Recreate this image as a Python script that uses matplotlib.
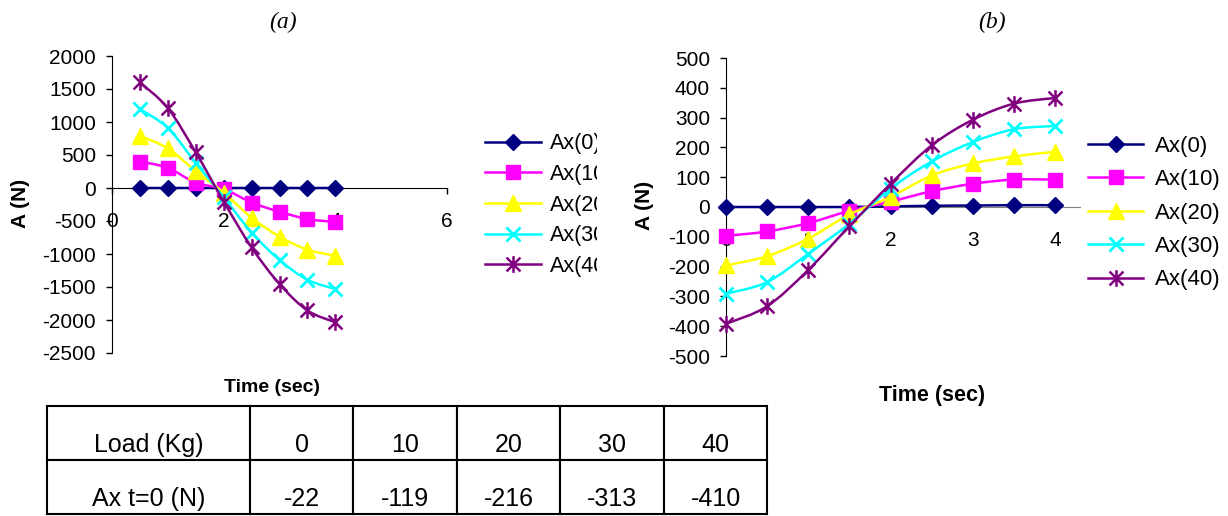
import numpy as np
import matplotlib
matplotlib.use('Agg')
import matplotlib.pyplot as plt
from matplotlib.path import Path
from matplotlib.patches import PathPatch
from matplotlib.lines import Line2D
from matplotlib.transforms import Bbox, TransformedBbox

plt.rcParams['font.family'] = ['Liberation Sans', 'DejaVu Sans']
plt.rcParams['axes.unicode_minus'] = False

# ---- data ----
labels = ['Ax(0)', 'Ax(10)', 'Ax(20)', 'Ax(30)', 'Ax(40)']

t_a = [0.5, 1.0, 1.5, 2.0, 2.5, 3.0, 3.5, 4.0]
a_ax0 = [0, 0, 0, 0, 0, 0, 0, 0]
a_ax10 = [400, 305, 80, -15, -220, -360, -470, -515]
a_ax20 = [790, 600, 255, -70, -450, -735, -935, -1025]
a_ax30 = [1195, 910, 380, -140, -675, -1090, -1390, -1530]
a_ax40 = [1600, 1210, 540, -205, -900, -1455, -1855, -2035]

t_b = [0.0, 0.5, 1.0, 1.5, 2.0, 2.5, 3.0, 3.5, 4.0]
b_ax0 = [0, 0, 0, 0, 2, 4, 5, 6, 6]
b_ax10 = [-97, -82, -54, -13, 18, 53, 78, 92, 92]
b_ax20 = [-196, -165, -106, -25, 34, 106, 146, 170, 185]
b_ax30 = [-291, -252, -157, -56, 62, 153, 218, 261, 272]
b_ax40 = [-392, -333, -211, -64, 78, 207, 293, 347, 366]

table_head = ['Load (Kg)', '0', '10', '20', '30', '40']
table_row = ['Ax t=0 (N)', '-22', '-119', '-216', '-313', '-410']

# ---- styles ----
colors = ['#000080', '#FF00FF', '#FFFF00', '#00FFFF', '#800080']
star = Path([(-1, -1), (1, 1), (-1, 1), (1, -1), (0, -1.2), (0, 1.2)],
            [Path.MOVETO, Path.LINETO, Path.MOVETO, Path.LINETO, Path.MOVETO, Path.LINETO])
mstyles = [
    dict(marker='D', ms=8, mfc=colors[0], mec=colors[0]),
    dict(marker='s', ms=10, mfc=colors[1], mec=colors[1]),
    dict(marker='^', ms=11, mfc=colors[2], mec=colors[2]),
    dict(marker='x', ms=10, mec=colors[3], mew=2),
    dict(marker=star, ms=12, mec=colors[4], mew=1.8, mfc='none'),
]
W, H = 1228, 516


def smooth_path(xs, ys):
    # Excel-like smoothed line: cubic bezier through every point
    pts = np.column_stack([xs, ys]).astype(float)
    n = len(pts)
    verts = [pts[0]]
    codes = [Path.MOVETO]
    for i in range(n - 1):
        p0 = pts[i - 1] if i > 0 else pts[i]
        p1, p2 = pts[i], pts[i + 1]
        p3 = pts[i + 2] if i + 2 < n else pts[i + 1]
        verts += [p1 + (p2 - p0) / 6, p2 - (p3 - p1) / 6, p2]
        codes += [Path.CURVE4] * 3
    return Path(verts, codes)


def fig_rect(x0, y0, x1, y1):
    return [x0 / W, 1 - y1 / H, (x1 - x0) / W, (y1 - y0) / H]


def draw_panel(ax, t, series):
    for i, ys in enumerate(series):
        ax.add_patch(PathPatch(smooth_path(t, ys), fill=False, ec=colors[i],
                               lw=1.8, zorder=3 + i, clip_on=False))
        ax.plot(t, ys, ls='none', zorder=3.5 + i, clip_on=False, **mstyles[i])
    for s in ('top', 'right'):
        ax.spines[s].set_visible(False)
    ax.spines['bottom'].set_position(('data', 0))
    ax.tick_params(axis='y', direction='out', length=4.5, width=1, pad=7, labelsize=15)
    ax.tick_params(axis='x', direction='out', length=4.5, width=1, pad=13, labelsize=15)


def handles():
    return [Line2D([], [], color=colors[i], lw=1.8, **mstyles[i]) for i in range(5)]


fig = plt.figure(figsize=(W / 100, H / 100), dpi=100)

# ---- panel (a) ----
ax1 = fig.add_axes(fig_rect(112, 56, 447, 353))
draw_panel(ax1, t_a, [a_ax0, a_ax10, a_ax20, a_ax30, a_ax40])
ax1.set_xlim(0, 6)
ax1.set_ylim(-2500, 2000)
ax1.set_xticks([0, 2, 4, 6])
ax1.set_yticks(np.arange(-2500, 2001, 500))
leg1 = ax1.legend(handles(), labels, loc='center left',
                  bbox_to_anchor=(485 / W, 1 - 205 / H), bbox_transform=fig.transFigure,
                  frameon=False, fontsize=15.5, handlelength=2.6, handletextpad=0.43,
                  labelspacing=0.45, borderpad=0, borderaxespad=0)
clip = TransformedBbox(Bbox.from_extents(0, 0, 597 / W, 1), fig.transFigure)
for txt in leg1.get_texts():
    txt.set_clip_box(clip)
    txt.set_clip_on(True)

fig.text(283 / W, 1 - 22 / H, '(a)', family='Liberation Serif', style='italic',
         fontsize=17, ha='center', va='center')
fig.text(20 / W, 1 - 203 / H, 'A (N)', rotation=90, fontsize=15, fontweight='bold',
         ha='center', va='center')
fig.text(272 / W, 1 - 388 / H, 'Time (sec)', fontsize=14, fontweight='bold',
         ha='center', va='center')

# ---- panel (b) ----
ax2 = fig.add_axes(fig_rect(726, 58, 1080, 356))
draw_panel(ax2, t_b, [b_ax0, b_ax10, b_ax20, b_ax30, b_ax40])
ax2.set_xlim(0, 4.3)
ax2.set_ylim(-500, 500)
ax2.set_xticks([0, 1, 2, 3, 4])
ax2.set_yticks(np.arange(-500, 501, 100))
ax2.spines['bottom'].set_color('#808080')
ax2.legend(handles(), labels, loc='center left',
           bbox_to_anchor=(1088 / W, 1 - 213 / H), bbox_transform=fig.transFigure,
           frameon=False, fontsize=16, handlelength=2.48, handletextpad=0.54,
           labelspacing=0.56, borderpad=0, borderaxespad=0)

fig.text(992 / W, 1 - 22 / H, '(b)', family='Liberation Serif', style='italic',
         fontsize=17, ha='center', va='center')
fig.text(645 / W, 1 - 205 / H, 'A (N)', rotation=90, fontsize=15, fontweight='bold',
         ha='center', va='center')
fig.text(932 / W, 1 - 396 / H, 'Time (sec)', fontsize=15.5, fontweight='bold',
         ha='center', va='center')

# ---- table ----
axt = fig.add_axes(fig_rect(47, 406, 767, 514))
axt.axis('off')
col_px = [47, 250, 353, 457, 560, 664, 767]
widths = np.diff(col_px) / (col_px[-1] - col_px[0])
tbl = axt.table(cellText=[table_head, table_row], cellLoc='center',
                colWidths=list(widths), bbox=[0, 0, 1, 1])
tbl.auto_set_font_size(False)
for (r, c), cell in tbl.get_celld().items():
    cell.set_linewidth(1.5)
    cell.set_text_props(va='top', fontsize=18)

fig.savefig('out.png', dpi=100)
